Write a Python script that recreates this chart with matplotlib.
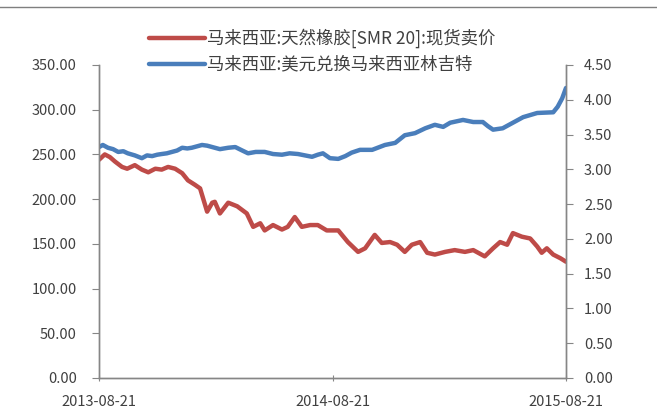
import pandas as pd
import numpy as np
import matplotlib.pyplot as plt
from matplotlib.lines import Line2D

plt.rcParams['font.family'] = ['Noto Sans CJK SC', 'DejaVu Sans']

start = pd.Timestamp('2013-08-21')

# days since 2013-08-21
rubber_days = [0, 9, 17, 25, 36, 44, 56, 67, 77, 88, 98, 108, 119, 130, 139, 150,
               158, 169, 177, 181, 189, 202, 216, 231, 241, 252, 259, 272, 286, 295,
               306, 317, 330, 342, 356, 374, 389, 405, 416, 431, 442, 455, 466, 478,
               489, 502, 513, 525, 541, 556, 572, 585, 603, 616, 627, 638, 647, 661,
               674, 685, 692, 700, 710, 721, 730]
rubber = [244, 250, 247, 242, 236, 234, 238, 233, 230, 234, 233, 236, 234, 229, 221, 216,
          212, 186, 196, 197, 184, 196, 192, 184, 169, 173, 165, 171, 166, 169,
          180, 169, 171, 171, 165, 165, 152, 141, 145, 160, 151, 152, 149, 141,
          149, 152, 140, 138, 141, 143, 141, 143, 136, 145, 152, 149, 162, 158,
          156, 147, 140, 145, 138, 134, 130]

fx_days = [0, 6, 14, 22, 30, 38, 45, 56, 67, 75, 83, 91, 98, 106, 114, 122, 130, 138,
           145, 153, 161, 169, 177, 189, 202, 213, 224, 233, 245, 259, 272, 286, 298,
           311, 322, 333, 342, 350, 361, 374, 385, 395, 408, 427, 447, 463, 478, 494,
           510, 525, 538, 549, 569, 585, 600, 608, 616, 631, 647, 663, 685, 710, 717,
           724, 730]
usd_myr = [3.32, 3.35, 3.31, 3.29, 3.25, 3.26, 3.23, 3.20, 3.16, 3.20, 3.19, 3.21, 3.22,
           3.23, 3.25, 3.27, 3.31, 3.30, 3.31, 3.33, 3.35, 3.34, 3.32, 3.29, 3.31, 3.32,
           3.27, 3.23, 3.25, 3.25, 3.22, 3.21, 3.23, 3.22, 3.20, 3.18, 3.21, 3.23, 3.16,
           3.15, 3.19, 3.24, 3.28, 3.28, 3.35, 3.38, 3.49, 3.52, 3.59, 3.64, 3.61, 3.67,
           3.71, 3.68, 3.68, 3.62, 3.57, 3.59, 3.67, 3.75, 3.81, 3.82, 3.90, 4.02, 4.17]

label1 = '马来西亚:天然橡胶[SMR 20]:现货卖价'
label2 = '马来西亚:美元兑换马来西亚林吉特'
xtick_labels = ['2013-08-21', '2014-08-21', '2015-08-21']

rubber_dates = start + pd.to_timedelta(rubber_days, unit='D')
fx_dates = start + pd.to_timedelta(fx_days, unit='D')

red = '#BE4B48'
blue = '#4A7EBB'
grey = '#868686'
txt = '#404040'

fig = plt.figure(figsize=(6.57, 4.19), dpi=100)
ax = fig.add_axes([0.1507, 0.0979, 0.7108, 0.747])
ax2 = ax.twinx()

l1, = ax.plot(rubber_dates, rubber, color=red, lw=3.2, solid_capstyle='round')
l2, = ax2.plot(fx_dates, usd_myr, color=blue, lw=3.2, solid_capstyle='round')

ax.set_ylim(0, 350)
ax.set_yticks(np.arange(0, 351, 50))
ax.set_yticklabels(['%.2f' % v for v in np.arange(0, 351, 50)])
ax2.set_ylim(0, 4.5)
ax2.set_yticks(np.arange(0, 4.51, 0.5))
ax2.set_yticklabels(['%.2f' % v for v in np.arange(0, 4.51, 0.5)])

xt = pd.to_datetime(xtick_labels)
ax.set_xlim(xt[0], xt[-1])
ax.set_xticks(xt)
ax.set_xticklabels(xtick_labels)

for a in (ax, ax2):
    a.spines['top'].set_visible(False)
    for s in ('left', 'right', 'bottom'):
        a.spines[s].set_color(grey)
        a.spines[s].set_linewidth(1)
ax.tick_params(axis='y', colors=grey, labelcolor=txt, labelsize=10.5, length=5, pad=11)
ax2.tick_params(axis='y', colors=grey, labelcolor=txt, labelsize=10.5, length=5, pad=8)
ax.tick_params(axis='x', colors=grey, labelcolor=txt, labelsize=10.5, length=5,
               direction='inout', pad=10)

fig.legend([l1, l2], [label1, label2], loc='upper left', bbox_to_anchor=(0.214, 0.953),
           frameon=False, fontsize=12.5, handlelength=3.2, handletextpad=0.1,
           labelspacing=0.45, labelcolor=txt, borderpad=0)

# thin frame line along the top edge
fig.add_artist(Line2D([0, 1], [0.983, 0.983], transform=fig.transFigure,
                      color='#7f7f7f', lw=1))

fig.savefig('out.png', dpi=100)
